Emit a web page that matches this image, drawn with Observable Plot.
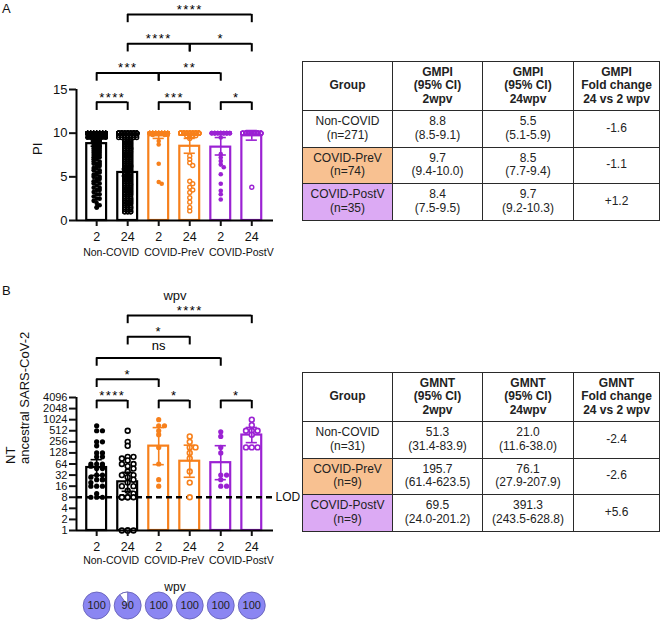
<!DOCTYPE html>
<html><head><meta charset="utf-8">
<script src="https://cdn.jsdelivr.net/npm/d3@7"></script>
<script src="https://cdn.jsdelivr.net/npm/@observablehq/plot@0.6"></script>
<style>
body{margin:0;background:#fff;}
#fig{position:relative;width:660px;height:620px;overflow:hidden;background:#fff;font-family:"Liberation Sans",Arial,sans-serif;color:#111;}
.letter{position:absolute;font-size:13px;color:#111;}
table{border-collapse:collapse;table-layout:fixed;width:357px;font-size:12px;line-height:13.6px;color:#222;font-family:"Liberation Sans",Arial,sans-serif;}
tr{height:36.5px;}
tr.hd{height:49px;}
th,td{border:1.3px solid #2a2a2a;text-align:center;vertical-align:middle;padding:0;}
th{font-weight:bold;}
</style></head>
<body><div id="fig"></div>
<script>
// ---------------- data ----------------
const groups = ["Non-COVID", "COVID-PreV", "COVID-PostV"];
const timepoints = [2, 24];
const groupColors = ["#000000", "#f7801c", "#9b22d3"];
const tableFills = ["#ffffff", "#f8c191", "#dcaaf4"];

// Panel A: GMPI (bars, order: Non-COVID 2, 24, PreV 2, 24, PostV 2, 24)
const gmpi   = [8.8, 5.5, 9.7, 8.5, 8.4, 9.7];
const gmpiLo = [8.5, 5.1, 9.4, 7.7, 7.5, 9.2];
const gmpiHi = [9.1, 5.9, 10.0, 9.4, 9.5, 10.3];
const nA = [271, 74, 35];
const foldA = ["-1.6", "-1.1", "+1.2"];
// individual PI values as [value, count]
const piNonCovid2 = [[10,150],[9.8,15],[9.5,20],[9.2,12],[9,10],[8.75,4],[8.5,4],[8.25,3],[8,3],[7.75,3],[7.5,3],[7.25,3],[7,2],[6.75,2],[6.5,3],[6.25,2],[6,2],[5.75,2],[5.5,2],[5.25,2],[5,2],[4.75,2],[4.5,2],[4.25,2],[4,1],[3.75,2],[3.5,2],[3.25,1],[3,2],[2.75,1],[2.5,2],[2.25,1],[2,1],[1.75,1],[1.5,2]];
const piNonCovid24 = [[10,55],[9.75,7],[9.5,7],[9.25,6],[9,7],[8.75,6],[8.5,6],[8.25,7],[8,6],[7.75,6],[7.5,7],[7.25,6],[7,7],[6.75,6],[6.5,6],[6.25,7],[6,6],[5.75,6],[5.5,7],[5.25,6],[5,6],[4.75,6],[4.5,6],[4.25,6],[4,6],[3.75,6],[3.5,6],[3.25,5],[3,6],[2.75,5],[2.5,6],[2.25,5],[2,5],[1.75,5],[1.5,5],[1.25,4],[1,6]];
const piPreV2 = [[10,66],[9.8,3],[9.1,1],[8.7,1],[6.5,1],[4.4,1],[4.2,1]];
const piPreV24 = [[10,56],[9.7,4],[9.4,1],[7.4,1],[7.0,1],[6.6,1],[6.3,1],[4.5,1],[4.2,1],[3.8,1],[3.5,1],[3.2,1],[2.6,1],[2.1,1],[1.5,1],[1.1,1]];
const piPostV2 = [[10,24],[9.5,1],[7.6,1],[7.2,1],[6.8,1],[6.4,1],[6.1,1],[5.3,1],[4.2,1],[3.4,1],[3.0,1],[2.4,1]];
const piPostV24 = [[10,34],[3.8,1]];
const sigA = [
  {a: 0, b: 1, level: 0, label: "****"},
  {a: 2, b: 3, level: 0, label: "***"},
  {a: 4, b: 5, level: 0, label: "*"},
  {a: 0, b: 2, level: 1, label: "***"},
  {a: 2, b: 4, level: 1, label: "**"},
  {a: 1, b: 3, level: 2, label: "****"},
  {a: 3, b: 5, level: 2, label: "*"},
  {a: 1, b: 5, level: 3, label: "****"}
];

// Panel B: GMNT
const gmnt   = [51.3, 21.0, 195.7, 76.1, 69.5, 391.3];
const gmntLo = [31.4, 11.6, 61.4, 27.9, 24.0, 243.5];
const gmntHi = [83.9, 38.0, 623.5, 207.9, 201.2, 628.8];
const nB = [31, 9, 9];
const foldB = ["-2.4", "-2.6", "+5.6"];
const ntNonCovid2 = [700,512,512,256,256,200,128,128,100,100,64,64,64,56,56,48,48,32,32,28,24,24,24,20,16,16,16,10,8,8,8];
const ntNonCovid24 = [512,256,200,100,100,90,80,64,64,56,48,40,32,32,28,24,20,16,16,12,10,8,8,8,8,8,8,1,1,1,1];
const ntPreV2 = [1024,700,700,512,400,180,64,24,16];
const ntPreV24 = [360,256,181,181,128,91,40,20,8];
const ntPostV2 = [480,360,181,128,32,32,24,16,16];
const ntPostV24 = [1024,724,512,512,512,400,181,181,181];
const lod = 8;
const ntTicks = [1,2,4,8,16,32,64,128,256,512,1024,2048,4096];
const sigB = [
  {a: 0, b: 1, level: 0, label: "****"},
  {a: 2, b: 3, level: 0, label: "*"},
  {a: 4, b: 5, level: 0, label: "*"},
  {a: 0, b: 2, level: 1, label: "*"},
  {a: 0, b: 4, level: 2, label: "ns"},
  {a: 1, b: 3, level: 3, label: "*"},
  {a: 1, b: 5, level: 4, label: "****"}
];
const seroPct = [100, 90, 100, 100, 100, 100];

// ---------------- layout ----------------
const fig = document.getElementById("fig");
const font = '"Liberation Sans", Arial, sans-serif';
const baseStyle = {fontFamily: font, fontSize: "12px", background: "transparent", overflow: "visible", color: "#111"};
const xDomain = [0.35, 6.7];
const mL = 76, mR = 17;
const barHalf = 0.32, capHalf = 0.18;
const groupLabelDx = [-1, 0, 5];
const pxPerX = (290 - mR - mL) / (xDomain[1] - xDomain[0]);

function place(el, left, top) {
  el.style.position = "absolute"; el.style.left = left + "px"; el.style.top = top + "px";
  fig.appendChild(el);
}
function swarmOffsets(values, toPx, r, step, maxHalfFn) {
  const placed = [];
  const minD = 2 * r * 0.75;
  return values.map((v, i) => {
    const py = toPx(v);
    const maxHalf = maxHalfFn(v);
    const cands = [0];
    for (let k = 1; k * step <= maxHalf + 1e-9; k++) cands.push(k * step, -k * step);
    let best = null;
    for (const c of cands) {
      if (placed.every(p => Math.hypot(p.x - c, p.y - py) >= minD)) { best = c; break; }
    }
    if (best === null) best = cands[i % cands.length];
    placed.push({x: best, y: py});
    return best;
  });
}
function bracketMarks(sig, levelY, dropY, strokeW) {
  const ends = sig.flatMap(s => [{x: s.a + 1, s}, {x: s.b + 1, s}]);
  return [
    Plot.ruleY(sig, {y: s => levelY(s.level), x1: s => s.a + 1, x2: s => s.b + 1, strokeWidth: strokeW, stroke: "#000"}),
    Plot.ruleX(ends, {x: "x", y1: e => levelY(e.s.level), y2: e => dropY(e.s.level), strokeWidth: strokeW, stroke: "#000"}),
    Plot.text(sig.filter(s => s.label !== "ns"), {x: s => (s.a + s.b) / 2 + 1, y: s => levelY(s.level), text: "label",
      fontSize: 13, fill: "#000", dy: -4.6}),
    Plot.text(sig.filter(s => s.label === "ns"), {x: s => (s.a + s.b) / 2 + 1, y: s => levelY(s.level), text: "label",
      fontSize: 13, fill: "#000", dy: -12})
  ];
}
function groupLabels(dy) {
  return groups.map((g, i) => Plot.text([g], {x: 2 * i + 1.5, frameAnchor: "bottom", dy, dx: groupLabelDx[i], fontSize: 10.5, fill: "#111"}));
}

// ---------------- Panel A ----------------
(function () {
  const W = 290, H = 265, axisY = 220, pxPerUnit = 8.733;
  const yDomain = [0, axisY / pxPerUnit];
  const yS = d3.scaleLinear(yDomain, [axisY, 0]);
  const pts = [piNonCovid2, piNonCovid24, piPreV2, piPreV24, piPostV2, piPostV24];
  const bars = gmpi.map((gm, i) => ({pos: i + 1, g: Math.floor(i / 2), t: i % 2, gm, lo: gmpiLo[i], hi: gmpiHi[i]}));
  const dots = pts.flatMap((levels, i) => {
    const vals = levels.flatMap(([v, c]) => Array(c).fill(v));
    const offs = swarmOffsets(vals, yS, 2.2, 3, v => v >= 9.5 ? 9 : 4.5);
    return vals.map((v, k) => ({x: i + 1 + offs[k] / pxPerX, v, g: Math.floor(i / 2), t: i % 2}));
  });
  const levelY = l => 13.55 + 3.35 * l;
  const dropY = l => levelY(l) - 0.95;
  const svg = Plot.plot({
    width: W, height: H, marginLeft: mL, marginRight: mR, marginTop: 0, marginBottom: H - axisY,
    style: baseStyle,
    x: {domain: xDomain, range: [mL, W - mR], axis: null},
    y: {domain: yDomain, range: [axisY, 0], axis: null, label: null},
    color: {type: "identity"},
    marks: [
      Plot.rectY(bars, {x1: d => d.pos - barHalf, x2: d => d.pos + barHalf, y1: 0, y2: "gm", fill: "white", stroke: d => groupColors[d.g], strokeWidth: 2.2}),
      Plot.dot(dots.filter(d => d.t === 0), {x: "x", y: "v", r: 2.3, fill: d => groupColors[d.g], stroke: "none"}),
      Plot.dot(dots.filter(d => d.t === 1), {x: "x", y: "v", r: 2.0, fill: "none", stroke: d => groupColors[d.g], strokeWidth: 1.4}),
      Plot.ruleX(bars, {x: "pos", y1: "lo", y2: "hi", stroke: d => groupColors[d.g], strokeWidth: 1.6}),
      Plot.ruleY(bars, {y: "lo", x1: d => d.pos - capHalf, x2: d => d.pos + capHalf, stroke: d => groupColors[d.g], strokeWidth: 1.6}),
      Plot.ruleY(bars, {y: "hi", x1: d => d.pos - capHalf, x2: d => d.pos + capHalf, stroke: d => groupColors[d.g], strokeWidth: 1.6}),
      Plot.ruleY([0], {strokeWidth: 2, stroke: "#000"}),
      Plot.ruleX([xDomain[0]], {y1: 0, y2: 15, strokeWidth: 2, stroke: "#000"}),
      Plot.axisY({ticks: [0, 5, 10, 15], tickSize: 7, tickPadding: 2, strokeWidth: 2, fontSize: 13, label: null}),
      Plot.axisX({ticks: [1, 2, 3, 4, 5, 6], tickFormat: d => timepoints[(d - 1) % 2], tickSize: 6, tickPadding: 6, strokeWidth: 2, fontSize: 12.5, label: null}),
      ...groupLabels(35),
      Plot.text(["PI"], {y: 7.5, frameAnchor: "left", dx: -39, rotate: -90, fontSize: 13, fill: "#111"}),
      ...bracketMarks(sigA, levelY, dropY, 2)
    ]
  });
  place(svg, 0, 0);
})();

// ---------------- Panel B ----------------
(function () {
  const W = 300, H = 290, axisY = 250, pxPerDoubling = 11.083;
  const yDomain = [1, 2 ** (axisY / pxPerDoubling)];
  const yS = d3.scaleLog().base(2).domain(yDomain).range([axisY, 0]);
  const pts = [ntNonCovid2, ntNonCovid24, ntPreV2, ntPreV24, ntPostV2, ntPostV24];
  const bars = gmnt.map((gm, i) => ({pos: i + 1, g: Math.floor(i / 2), t: i % 2, gm, lo: gmntLo[i], hi: gmntHi[i]}));
  const dots = pts.flatMap((vals, i) => {
    const offs = swarmOffsets(vals, yS, 2.6, 5.8, () => 6);
    return vals.map((v, k) => ({x: i + 1 + offs[k] / pxPerX, v, g: Math.floor(i / 2), t: i % 2}));
  });
  const levelY = l => 2 ** (11.73 + 1.92 * l);
  const dropY = l => 2 ** (11.73 + 1.92 * l - 0.75);
  const svg = Plot.plot({
    width: W, height: H, marginLeft: mL, marginRight: W - (290 - mR), marginTop: 0, marginBottom: H - axisY,
    style: baseStyle,
    x: {domain: xDomain, range: [mL, 290 - mR], axis: null},
    y: {type: "log", base: 2, domain: yDomain, range: [axisY, 0], axis: null, label: null},
    color: {type: "identity"},
    marks: [
      Plot.rectY(bars, {x1: d => d.pos - barHalf, x2: d => d.pos + barHalf, y1: 1, y2: "gm", fill: "white", stroke: d => groupColors[d.g], strokeWidth: 2.2}),
      Plot.ruleY([lod], {strokeWidth: 2.4, strokeDasharray: "6,4", stroke: "#000"}),
      Plot.text(["LOD"], {y: lod, frameAnchor: "right", textAnchor: "start", dx: 2, fontSize: 12, fill: "#111"}),
      Plot.dot(dots.filter(d => d.t === 0), {x: "x", y: "v", r: 2.6, fill: d => groupColors[d.g], stroke: "none"}),
      Plot.dot(dots.filter(d => d.t === 1), {x: "x", y: "v", r: 2.4, fill: "white", stroke: d => groupColors[d.g], strokeWidth: 1.6}),
      Plot.ruleX(bars, {x: "pos", y1: "lo", y2: "hi", stroke: d => groupColors[d.g], strokeWidth: 1.6}),
      Plot.ruleY(bars, {y: "lo", x1: d => d.pos - capHalf, x2: d => d.pos + capHalf, stroke: d => groupColors[d.g], strokeWidth: 1.6}),
      Plot.ruleY(bars, {y: "hi", x1: d => d.pos - capHalf, x2: d => d.pos + capHalf, stroke: d => groupColors[d.g], strokeWidth: 1.6}),
      Plot.ruleY([1], {strokeWidth: 2, stroke: "#000", x1: xDomain[0], x2: xDomain[1]}),
      Plot.ruleX([xDomain[0]], {y1: 1, y2: 4096, strokeWidth: 2, stroke: "#000"}),
      Plot.axisY({ticks: ntTicks, tickFormat: d => String(d), tickSize: 7, tickPadding: 2, strokeWidth: 2, fontSize: 11, label: null}),
      Plot.axisX({ticks: [1, 2, 3, 4, 5, 6], tickFormat: d => timepoints[(d - 1) % 2], tickSize: 6, tickPadding: 6, strokeWidth: 2, fontSize: 12.5, label: null}),
      ...groupLabels(33),
      Plot.text(["wpv"], {x: (xDomain[0] + xDomain[1]) / 2, frameAnchor: "top", dy: 10, fontSize: 13, fill: "#111"}),
      Plot.text(["NT\nancestral SARS-CoV-2"], {y: 64, frameAnchor: "left", dx: -59, rotate: -90, fontSize: 13, lineHeight: 1.08, fill: "#111"}),
      ...bracketMarks(sigB, levelY, dropY, 2)
    ]
  });
  place(svg, 0, 280);
})();

// ---------------- seroconversion pies ----------------
(function () {
  const pies = seroPct.map((pct, i) => ({pos: i + 1, pct}));
  function wedgeSymbol(frac) {
    return {draw(ctx, size) {
      const r = Math.sqrt(size / Math.PI);
      const a1 = -Math.PI / 2, a0 = a1 - 2 * Math.PI * frac;
      ctx.moveTo(0, 0); ctx.arc(0, 0, r, a0, a1); ctx.closePath();
    }};
  }
  const svg = Plot.plot({
    width: 290, height: 45, marginLeft: mL, marginRight: mR, marginTop: 16, marginBottom: 1,
    style: baseStyle,
    x: {domain: xDomain, range: [mL, 290 - mR], axis: null},
    marks: [
      Plot.dot(pies, {x: "pos", r: 13.5, fill: "#8b86f2", stroke: "#5e59b0", strokeWidth: 0.8}),
      ...pies.filter(d => d.pct < 100).map(d =>
        Plot.dot([d], {x: "pos", r: 13.5, symbol: wedgeSymbol(1 - d.pct / 100), fill: "white", stroke: "#5e59b0", strokeWidth: 0.8})),
      Plot.text(pies, {x: "pos", text: d => String(d.pct), fontSize: 11, fill: "#222"}),
      Plot.text(["wpv"], {x: (xDomain[0] + xDomain[1]) / 2, frameAnchor: "top", dy: -9, fontSize: 12, fill: "#111"})
    ]
  });
  place(svg, 0, 575);
})();

// asterisk letter spacing
d3.select(fig).selectAll("svg text").filter(function () { return /^\*+$/.test(this.textContent); })
  .attr("letter-spacing", "1.4");

// ---------------- tables ----------------
function makeTable(metric, gm, lo, hi, ns, fold) {
  const f = v => v.toFixed(1);
  let h = `<colgroup><col style="width:90px"><col style="width:90px"><col style="width:91px"><col style="width:86px"></colgroup>`;
  h += `<tr class="hd"><th>Group</th><th>${metric}<br>(95% CI)<br>2wpv</th><th>${metric}<br>(95% CI)<br>24wpv</th><th>${metric}<br>Fold change<br>24 vs 2 wpv</th></tr>`;
  groups.forEach((g, k) => {
    const i0 = 2 * k, i1 = 2 * k + 1;
    h += `<tr><td style="background:${tableFills[k]}">${g}<br>(n=${ns[k]})</td>` +
      `<td>${f(gm[i0])}<br>(${f(lo[i0])}-${f(hi[i0])})</td>` +
      `<td>${f(gm[i1])}<br>(${f(lo[i1])}-${f(hi[i1])})</td>` +
      `<td>${fold[k]}</td></tr>`;
  });
  const t = document.createElement("table");
  t.innerHTML = h;
  return t;
}
place(makeTable("GMPI", gmpi, gmpiLo, gmpiHi, nA, foldA), 302, 61);
place(makeTable("GMNT", gmnt, gmntLo, gmntHi, nB, foldB), 302, 372);

// panel letters
const la = document.createElement("div"); la.className = "letter"; la.textContent = "A"; place(la, 2, 1);
const lb = document.createElement("div"); lb.className = "letter"; lb.textContent = "B"; place(lb, 2, 283);
</script>
</body></html>
